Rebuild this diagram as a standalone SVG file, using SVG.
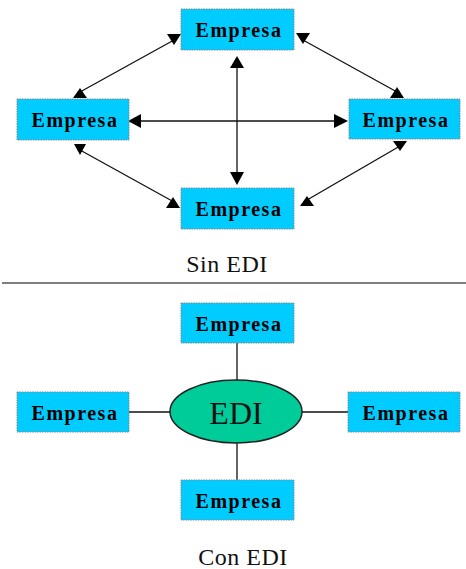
<svg xmlns="http://www.w3.org/2000/svg" width="466" height="569" viewBox="0 0 466 569">
<style>
.box{fill:#00CCFF;stroke:#888;stroke-width:1;stroke-dasharray:1.5 1}
.lbl{font-family:"Liberation Serif",serif;font-weight:bold;font-size:20px;letter-spacing:1.5px;fill:#000}
.cap{font-family:"Liberation Serif",serif;font-size:24px;letter-spacing:0.5px;fill:#111}
.ln{stroke:#111;stroke-width:1.3;fill:none}
.ah{fill:#000}
</style>
<rect width="466" height="569" fill="#fff"/>
<g id="connectors">
<line class="ln" x1="80" y1="92" x2="174" y2="40"/>
<polygon class="ah" points="80,88 73,98 87,98"/>
<polygon class="ah" points="167,34 181,34 174,45"/>
<line class="ln" x1="80" y1="150" x2="174" y2="202"/>
<polygon class="ah" points="74,144 86,144 80,155"/>
<polygon class="ah" points="173,197 166,208 180,208"/>
<line class="ln" x1="303" y1="40" x2="397" y2="92"/>
<polygon class="ah" points="296,33 310,33 303,44"/>
<polygon class="ah" points="397,87 390,98 404,98"/>
<line class="ln" x1="400" y1="146" x2="307" y2="200"/>
<polygon class="ah" points="393,141 407,141 400,151"/>
<polygon class="ah" points="307,196 300,206 314,206"/>
<line class="ln" x1="237" y1="60" x2="237" y2="180"/>
<polygon class="ah" points="237,56 230,68 244,68"/>
<polygon class="ah" points="230,172 244,172 237,185"/>
<line class="ln" x1="135" y1="121" x2="342" y2="121"/>
<polygon class="ah" points="128,121 141,114 141,128"/>
<polygon class="ah" points="348,121 334,114 334,128"/>
<line class="ln" x1="237" y1="343" x2="237" y2="380"/>
<line class="ln" x1="237" y1="443" x2="237" y2="480"/>
<line class="ln" x1="129" y1="412" x2="170" y2="412"/>
<line class="ln" x1="302" y1="412" x2="348" y2="412"/>
</g>
<line x1="2" y1="283" x2="466" y2="283" stroke="#555" stroke-width="1.3"/>
<g id="e1"><rect class="box" x="181" y="9" width="113" height="41"/><text class="lbl" x="239" y="37" text-anchor="middle">Empresa</text></g>
<g id="e2"><rect class="box" x="17" y="99" width="112" height="41"/><text class="lbl" x="75" y="127" text-anchor="middle">Empresa</text></g>
<g id="e3"><rect class="box" x="349" y="99" width="111" height="40"/><text class="lbl" x="406" y="127" text-anchor="middle">Empresa</text></g>
<g id="e4"><rect class="box" x="181" y="188" width="113" height="41"/><text class="lbl" x="239" y="216" text-anchor="middle">Empresa</text></g>
<text id="t1" class="cap" x="227" y="272" text-anchor="middle">Sin EDI</text>
<g id="e5"><rect class="box" x="181" y="303" width="113" height="40"/><text class="lbl" x="239" y="331" text-anchor="middle">Empresa</text></g>
<g id="e6"><rect class="box" x="17" y="392" width="112" height="40"/><text class="lbl" x="75" y="420" text-anchor="middle">Empresa</text></g>
<g id="e7"><rect class="box" x="348" y="392" width="112" height="40"/><text class="lbl" x="406" y="420" text-anchor="middle">Empresa</text></g>
<g id="e8"><rect class="box" x="181" y="480" width="113" height="40"/><text class="lbl" x="239" y="508" text-anchor="middle">Empresa</text></g>
<g id="edi"><ellipse cx="236" cy="411.5" rx="66" ry="31.5" fill="#00CC99" stroke="#222" stroke-width="1.5"/><text x="236" y="424" text-anchor="middle" font-family="Liberation Serif, serif" font-size="32" fill="#111">EDI</text></g>
<text id="t2" class="cap" x="243" y="565" text-anchor="middle">Con EDI</text>
</svg>
